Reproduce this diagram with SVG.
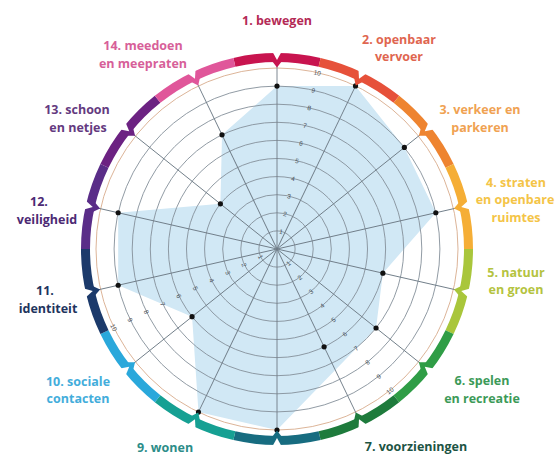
<svg xmlns="http://www.w3.org/2000/svg" xmlns:xlink="http://www.w3.org/1999/xlink" width="556" height="456" viewBox="0 0 556 456">
<style>
.lbl{font-family:"Open Sans","Liberation Sans",sans-serif;font-weight:700;font-size:12.5px;text-anchor:middle}
.seg{fill:none;stroke-width:9}
.grid{fill:none;stroke:#85909a;stroke-width:0.9}
.g10{fill:none;stroke:#d8ab8c;stroke-width:0.9}
.spoke{stroke:#6f7c87;stroke-width:0.9}
.tick{font-family:"Liberation Sans",sans-serif;font-size:6.5px;fill:#4a5058;text-anchor:middle;dominant-baseline:central}
.dot{fill:#111}
</style>
<defs>
<path id="tip" d="M272,61 L277,67.5 L282,61 Z"/>
<path id="cut" d="M272.6,52 L277,60 L281.4,52 Z" fill="#fff"/>
<line id="sp" x1="277" y1="249" x2="277" y2="66" class="spoke"/>
</defs>
<rect width="556" height="456" fill="#fff"/>

<g id="data-area">
<polygon points="277,86.1 355.53,85.92 404.36,147.43 435.82,212.75 382.88,273.17 376.06,328 277,430 198.47,412.08 192.09,316.71 118.18,285.25 118.18,212.75 220.4,203.86 222.03,134.85" fill="#d1e8f5"/>
</g>

<g id="grid">
<circle cx="277" cy="249" r="18.1" class="grid"/>
<circle cx="277" cy="249" r="36.2" class="grid"/>
<circle cx="277" cy="249" r="54.3" class="grid"/>
<circle cx="277" cy="249" r="72.4" class="grid"/>
<circle cx="277" cy="249" r="90.5" class="grid"/>
<circle cx="277" cy="249" r="108.6" class="grid"/>
<circle cx="277" cy="249" r="126.7" class="grid"/>
<circle cx="277" cy="249" r="144.8" class="grid"/>
<circle cx="277" cy="249" r="162.9" class="grid"/>
<circle cx="277" cy="249" r="181" class="g10"/>
</g>

<g id="connectors">
<use xlink:href="#sp" transform="rotate(0 277 249)"/>
<use xlink:href="#sp" transform="rotate(25.714 277 249)"/>
<use xlink:href="#sp" transform="rotate(51.429 277 249)"/>
<use xlink:href="#sp" transform="rotate(77.143 277 249)"/>
<use xlink:href="#sp" transform="rotate(102.857 277 249)"/>
<use xlink:href="#sp" transform="rotate(128.571 277 249)"/>
<use xlink:href="#sp" transform="rotate(154.286 277 249)"/>
<use xlink:href="#sp" transform="rotate(180 277 249)"/>
<use xlink:href="#sp" transform="rotate(205.714 277 249)"/>
<use xlink:href="#sp" transform="rotate(231.429 277 249)"/>
<use xlink:href="#sp" transform="rotate(257.143 277 249)"/>
<use xlink:href="#sp" transform="rotate(282.857 277 249)"/>
<use xlink:href="#sp" transform="rotate(308.571 277 249)"/>
<use xlink:href="#sp" transform="rotate(334.286 277 249)"/>
</g>

<g id="ticks">
<g fill="#4a5058">
<text class="tick" transform="translate(281.03,231.35) rotate(12.86)">1</text>
<text class="tick" transform="translate(285.06,213.71) rotate(12.86)">2</text>
<text class="tick" transform="translate(289.08,196.06) rotate(12.86)">3</text>
<text class="tick" transform="translate(293.11,178.41) rotate(12.86)">4</text>
<text class="tick" transform="translate(297.14,160.77) rotate(12.86)">5</text>
<text class="tick" transform="translate(301.17,143.12) rotate(12.86)">6</text>
<text class="tick" transform="translate(305.19,125.48) rotate(12.86)">7</text>
<text class="tick" transform="translate(309.22,107.83) rotate(12.86)">8</text>
<text class="tick" transform="translate(313.25,90.18) rotate(12.86)">9</text>
<text class="tick" transform="translate(317.28,72.54) rotate(12.86)">10</text>

<text class="tick" transform="translate(288.29,263.15) rotate(-38.57)">1</text>
<text class="tick" transform="translate(299.57,277.3) rotate(-38.57)">2</text>
<text class="tick" transform="translate(310.86,291.45) rotate(-38.57)">3</text>
<text class="tick" transform="translate(322.14,305.6) rotate(-38.57)">4</text>
<text class="tick" transform="translate(333.43,319.76) rotate(-38.57)">5</text>
<text class="tick" transform="translate(344.71,333.91) rotate(-38.57)">6</text>
<text class="tick" transform="translate(356,348.06) rotate(-38.57)">7</text>
<text class="tick" transform="translate(367.28,362.21) rotate(-38.57)">8</text>
<text class="tick" transform="translate(378.57,376.36) rotate(-38.57)">9</text>
<text class="tick" transform="translate(389.85,390.51) rotate(-38.57)">10</text>

<text class="tick" transform="translate(260.69,256.85) rotate(64.29)">1</text>
<text class="tick" transform="translate(244.38,264.71) rotate(64.29)">2</text>
<text class="tick" transform="translate(228.08,272.56) rotate(64.29)">3</text>
<text class="tick" transform="translate(211.77,280.41) rotate(64.29)">4</text>
<text class="tick" transform="translate(195.46,288.27) rotate(64.29)">5</text>
<text class="tick" transform="translate(179.15,296.12) rotate(64.29)">6</text>
<text class="tick" transform="translate(162.85,303.97) rotate(64.29)">7</text>
<text class="tick" transform="translate(146.54,311.83) rotate(64.29)">8</text>
<text class="tick" transform="translate(130.23,319.68) rotate(64.29)">9</text>
<text class="tick" transform="translate(113.92,327.53) rotate(64.29)">10</text>
</g>
</g>

<g id="dots">
<circle class="dot" cx="277" cy="86.1" r="2.6"/>
<circle class="dot" cx="355.53" cy="85.92" r="2.6"/>
<circle class="dot" cx="404.36" cy="147.43" r="2.6"/>
<circle class="dot" cx="435.82" cy="212.75" r="2.6"/>
<circle class="dot" cx="382.88" cy="273.17" r="2.6"/>
<circle class="dot" cx="376.06" cy="328" r="2.6"/>
<circle class="dot" cx="324.12" cy="346.85" r="2.6"/>
<circle class="dot" cx="277" cy="430" r="2.6"/>
<circle class="dot" cx="198.47" cy="412.08" r="2.6"/>
<circle class="dot" cx="192.09" cy="316.71" r="2.6"/>
<circle class="dot" cx="118.18" cy="285.25" r="2.6"/>
<circle class="dot" cx="118.18" cy="212.75" r="2.6"/>
<circle class="dot" cx="220.4" cy="203.86" r="2.6"/>
<circle class="dot" cx="222.03" cy="134.85" r="2.6"/>
</g>

<g id="cat-1">
<path class="seg" stroke="#c8144f" d="M234.39,62.3 A191.5,191.5 0 0 1 319.61,62.3"/>
<g transform="rotate(0 277 249)"><use xlink:href="#tip" fill="#c8144f"/><use xlink:href="#cut"/></g>
<text class="lbl" fill="#b42a56" x="277" y="25">1. bewegen</text>
</g>
<g id="cat-2">
<path class="seg" stroke="#e6513a" d="M319.61,62.3 A191.5,191.5 0 0 1 396.4,99.28"/>
<g transform="rotate(25.714 277 249)"><use xlink:href="#tip" fill="#e6513a"/><use xlink:href="#cut"/></g>
<text class="lbl" fill="#df6650" x="399" y="44">2. openbaar</text>
<text class="lbl" fill="#df6650" x="399" y="61">vervoer</text>
</g>
<g id="cat-3">
<path class="seg" stroke="#ee8430" d="M396.4,99.28 A191.5,191.5 0 0 1 449.54,165.91"/>
<g transform="rotate(51.429 277 249)"><use xlink:href="#tip" fill="#ee8430"/><use xlink:href="#cut"/></g>
<text class="lbl" fill="#f0a252" x="480" y="114">3. verkeer en</text>
<text class="lbl" fill="#f0a252" x="480" y="132">parkeren</text>
</g>
<g id="cat-4">
<path class="seg" stroke="#f5ae36" d="M449.54,165.91 A191.5,191.5 0 0 1 468.5,249"/>
<g transform="rotate(77.143 277 249)"><use xlink:href="#tip" fill="#f5ae36"/><use xlink:href="#cut"/></g>
<text class="lbl" fill="#f4c447" x="516" y="187">4. straten</text>
<text class="lbl" fill="#f4c447" x="515" y="204">en openbare</text>
<text class="lbl" fill="#f4c447" x="516" y="222">ruimtes</text>
</g>
<g id="cat-5">
<path class="seg" stroke="#a9c63b" d="M468.5,249 A191.5,191.5 0 0 1 449.54,332.09"/>
<g transform="rotate(102.857 277 249)"><use xlink:href="#tip" fill="#a9c63b"/><use xlink:href="#cut"/></g>
<text class="lbl" fill="#b4c340" x="516" y="277">5. natuur</text>
<text class="lbl" fill="#b4c340" x="516" y="294">en groen</text>
</g>
<g id="cat-6">
<path class="seg" stroke="#2f9d46" d="M449.54,332.09 A191.5,191.5 0 0 1 396.4,398.72"/>
<g transform="rotate(128.571 277 249)"><use xlink:href="#tip" fill="#2f9d46"/><use xlink:href="#cut"/></g>
<text class="lbl" fill="#3c9a58" x="482" y="385">6. spelen</text>
<text class="lbl" fill="#3c9a58" x="482" y="403">en recreatie</text>
</g>
<g id="cat-7">
<path class="seg" stroke="#1e7b3c" d="M396.4,398.72 A191.5,191.5 0 0 1 319.61,435.7"/>
<g transform="rotate(154.286 277 249)"><use xlink:href="#tip" fill="#1e7b3c"/><use xlink:href="#cut"/></g>
<text class="lbl" fill="#1d5444" x="416" y="451">7. voorzieningen</text>
</g>
<g id="cat-8">
<path class="seg" stroke="#176c80" d="M319.61,435.7 A191.5,191.5 0 0 1 234.39,435.7"/>
<g transform="rotate(180 277 249)"><use xlink:href="#tip" fill="#176c80"/><use xlink:href="#cut"/></g>
</g>
<g id="cat-9">
<path class="seg" stroke="#16a093" d="M234.39,435.7 A191.5,191.5 0 0 1 157.6,398.72"/>
<g transform="rotate(205.714 277 249)"><use xlink:href="#tip" fill="#16a093"/><use xlink:href="#cut"/></g>
<text class="lbl" fill="#2c8d88" x="165" y="452">9. wonen</text>
</g>
<g id="cat-10">
<path class="seg" stroke="#2aa8db" d="M157.6,398.72 A191.5,191.5 0 0 1 104.46,332.09"/>
<g transform="rotate(231.429 277 249)"><use xlink:href="#tip" fill="#2aa8db"/><use xlink:href="#cut"/></g>
<text class="lbl" fill="#43addb" x="78" y="386">10. sociale</text>
<text class="lbl" fill="#43addb" x="78" y="403">contacten</text>
</g>
<g id="cat-11">
<path class="seg" stroke="#1c3a6b" d="M104.46,332.09 A191.5,191.5 0 0 1 85.5,249"/>
<g transform="rotate(257.143 277 249)"><use xlink:href="#tip" fill="#1c3a6b"/><use xlink:href="#cut"/></g>
<text class="lbl" fill="#1f355e" x="45" y="295">11.</text>
<text class="lbl" fill="#1f355e" x="48" y="313">identiteit</text>
</g>
<g id="cat-12">
<path class="seg" stroke="#5a2d88" d="M85.5,249 A191.5,191.5 0 0 1 104.46,165.91"/>
<g transform="rotate(282.857 277 249)"><use xlink:href="#tip" fill="#5a2d88"/><use xlink:href="#cut"/></g>
<text class="lbl" fill="#4c2a74" x="39" y="206">12.</text>
<text class="lbl" fill="#4c2a74" x="47" y="224">veiligheid</text>
</g>
<g id="cat-13">
<path class="seg" stroke="#6c2282" d="M104.46,165.91 A191.5,191.5 0 0 1 157.6,99.28"/>
<g transform="rotate(308.571 277 249)"><use xlink:href="#tip" fill="#6c2282"/><use xlink:href="#cut"/></g>
<text class="lbl" fill="#643a80" x="77" y="114">13. schoon</text>
<text class="lbl" fill="#643a80" x="78" y="132">en netjes</text>
</g>
<g id="cat-14">
<path class="seg" stroke="#e0569a" d="M157.6,99.28 A191.5,191.5 0 0 1 234.39,62.3"/>
<g transform="rotate(334.286 277 249)"><use xlink:href="#tip" fill="#e0569a"/><use xlink:href="#cut"/></g>
<text class="lbl" fill="#d75f99" x="143" y="50">14. meedoen</text>
<text class="lbl" fill="#d75f99" x="143" y="68">en meepraten</text>
</g>
</svg>
